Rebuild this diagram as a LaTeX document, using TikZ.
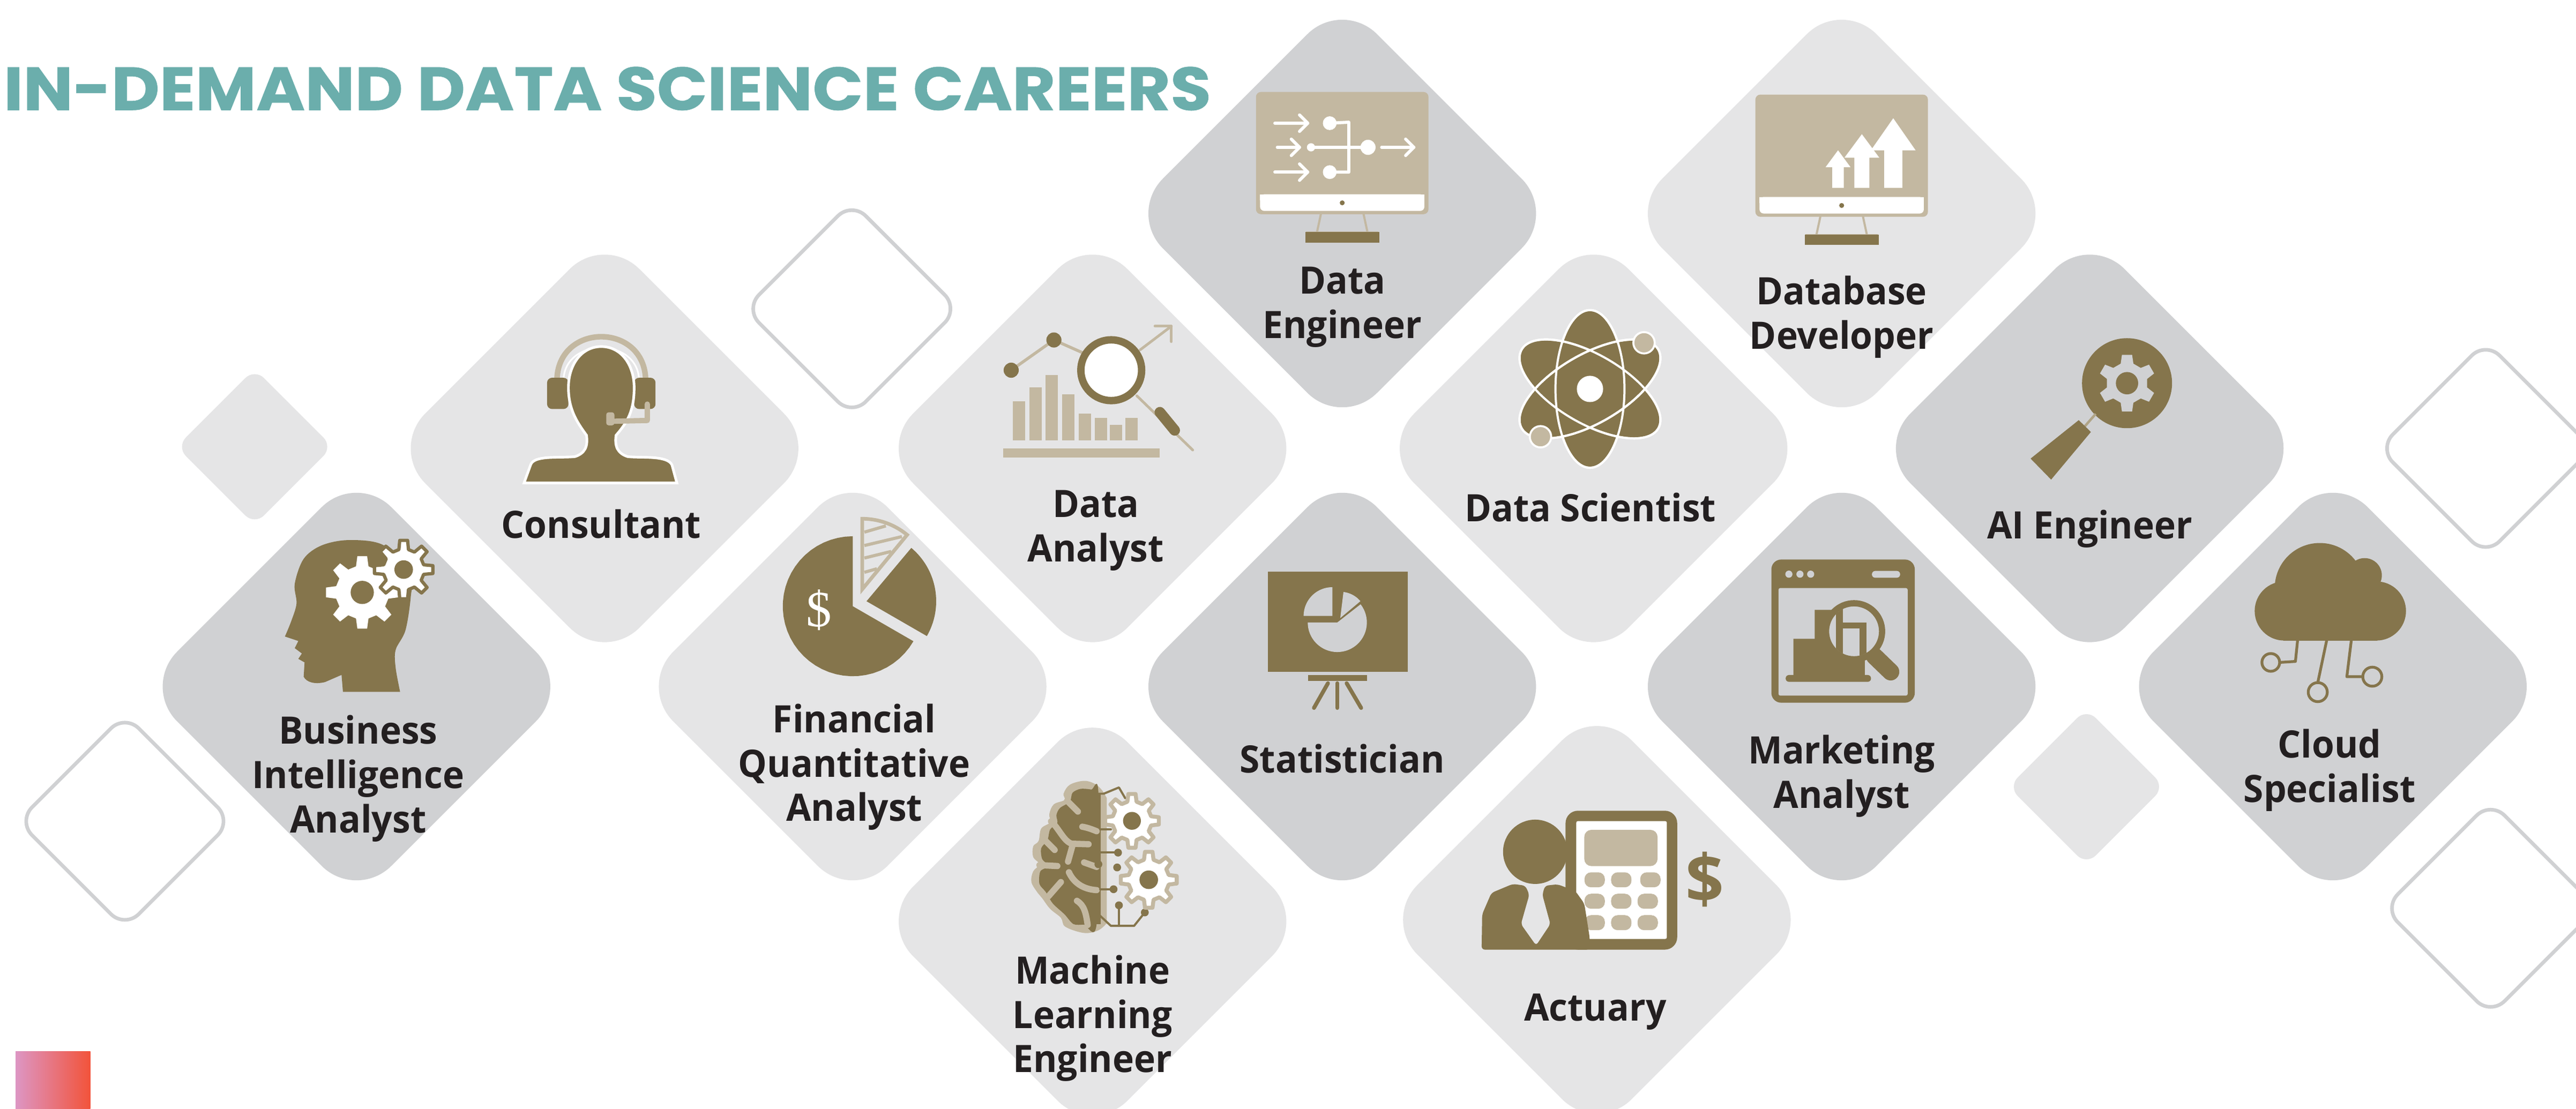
\documentclass[tikz,border=0pt]{standalone}
\usepackage{fontspec}
\setmainfont{Open Sans}
\newfontfamily\titf[FakeStretch=1.09,BoldFeatures={FakeStretch=1.09,FakeBold=0.6}]{Poppins}
\newfontfamily\labf[FakeStretch=.96,BoldFeatures={FakeStretch=.96}]{Open Sans}
\newfontfamily\serf{Liberation Serif}
\definecolor{brn}{HTML}{85754C}
\definecolor{tann}{HTML}{C3B8A1}
\definecolor{dkg}{HTML}{D0D1D3}
\definecolor{ltg}{HTML}{E5E5E6}
\definecolor{ink}{HTML}{231F20}
\definecolor{teal}{HTML}{6BAEAC}
\definecolor{gradl}{HTML}{DD96C4}
\definecolor{gradr}{HTML}{F2533A}
\tikzset{
  x=1pt,y=-1pt,
  lab/.style={font=\labf\fontsize{23}{27}\selectfont\bfseries,text=ink,align=center,inner sep=0pt},
  dkd/.style={fill=dkg},
  ltd/.style={fill=ltg},
  outl/.style={draw=dkg,line width=2.2pt},
  zoomat/.style 2 args={shift={(#1,#2)},x=.1087pt,y=-.1087pt},
  bf/.style={fill=brn},
  tf/.style={fill=tann},
  bl/.style={draw=brn,line cap=round,line join=round},
  tl/.style={draw=tann,line cap=round,line join=round},
}
\newcommand{\dia}[5][ltd]{\path[#1,rounded corners=#5pt] ({#2-#4},#3) -- (#2,{#3-#4}) -- ({#2+#4},#3) -- (#2,{#3+#4}) -- cycle;}
\newcommand{\pie}[6][bf]{\path[#1] (#2,#3) -- plot[domain=#5:#6,samples=40,variable=\t] ({#2+#4*cos(\t)},{#3+#4*sin(\t)}) -- cycle;}
% gear: style, cx, cy, Ro, Ri, n, rotation
\newcommand{\gear}[7][]{\pgfmathsetmacro{\pit}{360/#6}%
  \path[#1,line join=round] ({#2+#5*cos(#7-.30*\pit)},{#3+#5*sin(#7-.30*\pit)})
  \foreach \i [evaluate=\i as \aa using {#7+\i*\pit}] in {1,...,#6} {
    -- ({#2+#5*cos(\aa-\pit-.30*\pit)},{#3+#5*sin(\aa-\pit-.30*\pit)})
    -- ({#2+#4*cos(\aa-\pit-.17*\pit)},{#3+#4*sin(\aa-\pit-.17*\pit)})
    -- ({#2+#4*cos(\aa-\pit+.17*\pit)},{#3+#4*sin(\aa-\pit+.17*\pit)})
    -- ({#2+#5*cos(\aa-\pit+.30*\pit)},{#3+#5*sin(\aa-\pit+.30*\pit)})
  } -- cycle;}
\newcommand{\monitor}{%
  \path[tf,rounded corners=3pt] (-52.5,0) rectangle (52.5,74.4);
  \path[fill=white,rounded corners=2.5pt] (-50,62.3) rectangle (50,72.4);
  \path[fill=white] (-50,62.3) rectangle (50,66);
  \fill[brn] (0,67.5) circle (1.5);
  \draw[tl,line width=1.3pt] (-13,74.4) -- (-15.5,86) -- (15.5,86) -- (13,74.4);
  \fill[tann] (-22,85) rectangle (22,87);
  \fill[brn] (-22.5,85.4) rectangle (22.5,91.6);
}
\begin{document}
\begin{tikzpicture}
\useasboundingbox (0,0) rectangle (1568,674.9);
\fill[white] (0,0) rectangle (1568,674.9);

% diamonds
\dia[dkd]{217}{418}{130.4}{30}
\dia{368}{273}{130.4}{30}
\dia{519}{418}{130.4}{30}
\dia{665}{273}{130.4}{30}
\dia[dkd]{817}{130}{130.4}{30}
\dia[dkd]{817}{418}{130.4}{30}
\dia{665}{561}{130.4}{30}
\dia{970}{273}{130.4}{30}
\dia{1121}{130}{130.4}{30}
\dia[dkd]{1272}{273}{130.4}{30}
\dia[dkd]{1121}{418}{130.4}{30}
\dia{972}{560}{130.4}{30}
\dia[dkd]{1420}{418}{130.4}{30}
\dia{155}{272}{47.5}{8}
\dia{1270}{479}{47.5}{8}
\dia[outl]{518.5}{188}{65}{12}
\dia[outl]{76}{500}{65}{12}
\dia[outl]{1513}{273}{65}{12}
\dia[outl]{1516}{553}{65}{12}

% title
\node[anchor=base west,inner sep=0pt,text=teal,font=\titf\bfseries\fontsize{37}{37}\selectfont] (title) at (2,67) {IN-DEMAND DATA SCIENCE CAREERS};

% gradient square
\shade[left color=gradl,right color=gradr] (9.5,640) rectangle (55,674.9);

% ---------- Business Intelligence
\begin{scope}[zoomat={163.1}{319.6}]
\fill[brn] plot[smooth,tension=.55] coordinates {(740,935)(715,800)(715,700)(770,590)(800,400)(800,250)(640,110)(450,85)(300,115)(200,190)(150,330)(160,440)(130,540)(95,625)}
  -- (170,650) -- (150,690) -- (190,720) -- (170,750) -- (205,770) -- (200,850)
  .. controls (215,880) and (260,895) .. (320,880) -- (412,840) -- (420,935) -- cycle;
\gear[fill=white]{528}{378}{205}{150}{8}{0}
\fill[brn] (528,378) circle (65);
\gear[fill=white,draw=brn,line width=2pt]{760}{250}{165}{115}{8}{0}
\fill[brn] (760,250) circle (52);
\end{scope}

% ---------- Consultant
\draw[tl,line width=3.4pt] (339,232) .. controls (339,196) and (393,196) .. (393,232);
\draw[draw=white,line width=1pt] (343,232) .. controls (343,205) and (389,205) .. (389,232);
\fill[brn,rounded corners=3pt] (333,230) rectangle (346,249);
\fill[brn,rounded corners=3pt] (386,230) rectangle (399,249);
\path[fill=brn,draw=white,line width=1.6pt] (366,211)
  .. controls (354,211) and (346,222) .. (346,236)
  .. controls (346,250) and (352,258) .. (357,265)
  .. controls (358,272) and (356,276) .. (350,278)
  .. controls (340,279) and (325,277) .. (323,283)
  -- (319,294) -- (412,294) -- (409,283)
  .. controls (406,277) and (390,279) .. (382,278)
  .. controls (376,276) and (374,272) .. (375,265)
  .. controls (382,257) and (386,250) .. (386,236)
  .. controls (386,222) and (378,211) .. (366,211) -- cycle;
\draw[tl,line width=3.2pt] (394,246) -- (394,256) -- (372,256.5);
\fill[tann,rounded corners=1.5pt] (369,251) rectangle (374,259);

% ---------- Financial
\begin{scope}[zoomat={463.1}{306.6}]
\pie{515}{575}{392}{30}{270}
\pie{592}{547}{390}{-50}{30}
\pie[draw=tann,line width=2.2pt,line join=miter]{568}{480}{395}{-90}{-50.5}
\foreach \a/\b/\c/\d in {580/160/700/125,580/235/790/185,580/305/730/268,580/385/650/365}
  \draw[draw=tann,line width=1.9pt] (\a,\b) -- (\c,\d);
\node[font=\serf\fontsize{31}{31}\selectfont,text=white,inner sep=0pt] (fin-dollar) at (325,597) {\$};
\end{scope}

% ---------- Data analyst
\foreach \x/\t in {616.5/244.4,626.6/235.7,636.5/228.3,646.5/240.2,656.5/251.7,666.5/254.4,675.4/258.6,685/254.4}
  \fill[tann] (\x,\t) rectangle ({\x+7.5},268);
\fill[tann] (610.5,273) rectangle (706,278.7);
\draw[tl,line width=1.8pt] (615.5,225.4) -- (641.5,207) -- (664,217);
\fill[brn] (615.5,225.4) circle (4.6);
\fill[brn] (641.5,207) circle (4.6);
\draw[tl,line width=1.6pt] (694,213) -- (713,198.6);
\draw[tl,line width=1.6pt] (703,198.6) -- (713,198.6) -- (713,208);
\draw[tl,line width=1.6pt] (692,241) -- (726,274);
\draw[draw=brn,line width=6.5pt,line cap=round] (706,251) -- (715,262);
\path[fill=white,draw=brn,line width=4.5pt] (676.4,225.4) circle (18.5);

% ---------- Data Engineer
\begin{scope}[shift={(817,56)}]
\monitor
\begin{scope}[draw=white,line width=1.9pt,line cap=round,line join=round]
\foreach \y/\s/\e in {19/-41/-21,33.7/-39.5/-26,48.8/-41/-21}{
  \draw (\s,\y) -- (\e,\y);
  \draw ({\e-5},{\y-5}) -- (\e,\y) -- ({\e-5},{\y+5});
}
\draw (-7.6,19) -- (4,18.4) -- (4,48.8) -- (-7.6,48.8);
\draw (-19,33.7) -- (15.7,33.7);
\draw (24,33.7) -- (43.6,33.7);
\draw (38.6,28.7) -- (43.6,33.7) -- (38.6,38.7);
\end{scope}
\fill[white] (-7.6,19) circle (4.2);
\fill[white] (-7.6,48.8) circle (4.2);
\fill[white] (-19,33.7) circle (2.5);
\fill[white] (15.7,33.7) circle (4.6);
\end{scope}

% ---------- Database developer
\begin{scope}[shift={(1121,57.6)}]
\monitor
\foreach \cx/\tip/\hb/\hw/\sw in {-2.2/33.9/44.2/7.6/3.5,12.3/24.1/38.4/10.6/4.6,31.4/14.4/33.9/13.6/5.5}
  \fill[white] (\cx,\tip) -- ({\cx+\hw},\hb) -- ({\cx+\sw},\hb) -- ({\cx+\sw},56.8) -- ({\cx-\sw},56.8) -- ({\cx-\sw},\hb) -- ({\cx-\hw},\hb) -- cycle;
\end{scope}

% ---------- Data Scientist
\foreach \a in {0,60,120}
  \path[fill=brn,draw=white,line width=1.3pt,rotate around={\a:(967.8,236.8)}] (967.8,236.8) ellipse (21 and 48);
\foreach \a in {0,60,120}
  \path[draw=white,line width=1.3pt,rotate around={\a:(967.8,236.8)}] (967.8,236.8) ellipse (21 and 48);
\fill[white] (967.8,236.8) circle (8);
\path[fill=tann,draw=white,line width=1.2pt] (1000.7,208.7) circle (6.5);
\path[fill=tann,draw=white,line width=1.2pt] (937.7,265.9) circle (6.5);

% ---------- AI Engineer
\fill[brn] (1294.7,233.3) circle (27.4);
\gear[fill=dkg]{1294.7}{233.3}{17.5}{12.5}{6}{-90}
\fill[brn] (1294.7,233.3) circle (6.8);
\draw[draw=tann!70!brn,line width=1.5pt] (1268.8,259.8) -- (1275.6,252);
\fill[brn] (1265.3,255.8) -- (1272.7,263) -- (1248.5,292) -- (1236,279.2) -- cycle;

% ---------- Cloud
\begin{scope}[fill=brn]
\fill (1390.4,372) circle (18);
\fill (1446.5,372) circle (18);
\fill (1412,358) circle (27.4);
\fill (1439.3,350.3) circle (10.5);
\fill (1390,362) rectangle (1447,390);
\fill (1425,345) rectangle (1441,365);
\end{scope}
\begin{scope}[bl,line width=1.7pt]
\draw (1398.5,390) -- (1397.2,402.7) -- (1387.7,403.3);
\draw (1382.2,403.3) circle (5.4);
\draw (1416.2,390) -- (1410.8,415.6);
\draw (1410.8,421.4) circle (5.8);
\draw (1431.2,390) -- (1428.5,412) -- (1438,412);
\draw (1444,412) circle (5.8);
\end{scope}

% ---------- Marketing
\begin{scope}[zoomat={1056.8}{326.2}]
\path[fill=brn,rounded corners=6pt] (197,133) rectangle (1000,935);
\path[fill=dkg,rounded corners=1pt] (237,293) rectangle (960,895);
\foreach \xx in {295,357,417} \fill[dkg] (\xx,215) circle (20);
\path[fill=dkg,rounded corners=2pt] (760,197) rectangle (918,235);
\fill[brn] (320,577) -- (440,577) -- (440,415) -- (600,415) -- (720,500) -- (720,780) -- (320,780) -- cycle;
\path[fill=brn,rounded corners=2pt] (277,780) rectangle (755,818);
\draw[draw=brn,line width=10.5pt,line cap=round] (775,675) -- (865,762);
\path[fill=dkg,draw=brn,line width=3.8pt] (660,535) circle (157);
\begin{scope}
\clip (660,535) circle (140);
\fill[brn] (560,380) rectangle (597,700);
\fill[brn] (560,485) rectangle (730,520);
\fill[brn] (690,485) rectangle (730,700);
\end{scope}
\end{scope}

% ---------- Statistician
\fill[brn] (771.6,348) rectangle (857,409);
\pie[fill=dkg]{814}{379}{18}{-38}{180}
\pie[fill=dkg]{811}{375}{17.5}{180}{270}
\pie[fill=dkg]{815.8}{376.3}{16}{-83}{-40}
\fill[brn] (796.3,411) rectangle (832,414.5);
\begin{scope}[bl,line width=2.4pt]
\draw (808.3,416) -- (799.8,431);
\draw (814,416) -- (814,431);
\draw (819.7,416) -- (828.5,431);
\end{scope}

% ---------- Machine Learning
\begin{scope}[zoomat={616.4}{482.7}]
\fill[tann] plot[smooth,tension=.6] coordinates {(527,30)(500,-15)(460,-50)(400,-67)(320,-45)(285,5)(290,40)(230,65)(205,120)(210,165)(160,200)(145,270)(115,300)(115,360)(150,400)(115,440)(105,500)(140,560)(165,590)(210,650)(270,700)(295,750)(400,785)(480,770)(527,730)} -- cycle;
\fill[brn] plot[smooth cycle,tension=.5] coordinates {(480,0)(440,-18)(380,-22)(335,0)(320,50)(265,85)(245,125)(250,170)(210,205)(195,265)(160,310)(165,370)(200,410)(155,440)(150,510)(185,555)(225,620)(290,680)(340,735)(400,738)(470,735)};
\fill[brn] (440,5) rectangle (492,735);
\begin{scope}[tl,line width=3.8pt]
\draw (305,45) -- (365,105);
\draw (215,160) .. controls (260,200) and (285,270) .. (330,285) -- (425,288);
\draw (335,295) -- (310,385);
\draw (180,265) -- (235,320);
\draw (150,405) -- (250,410);
\draw (390,190) .. controls (420,195) and (445,205) .. (470,215);
\draw (400,390) -- (470,415);
\draw (315,445) .. controls (340,500) and (390,540) .. (470,545);
\draw (270,500) -- (200,580);
\draw (360,605) .. controls (400,630) and (410,670) .. (420,740);
\end{scope}
\fill[tann] (495,30) rectangle (527,700);
\begin{scope}[bl,line width=1.3pt]
\draw (490,205) -- (550,205);
\draw (490,335) -- (590,335);
\draw (490,540) -- (565,540);
\draw (595,630) -- (595,745);
\draw (480,680) -- (550,745) -- (680,745) -- (740,670);
\draw (470,5) -- (510,5) -- (595,-30) -- (630,30);
\end{scope}
\foreach \xx/\yy in {590/335,480/400,585/418,565/540,595/630,740/670} \fill[brn] (\xx,\yy) circle (22);
\gear[fill=white,draw=tann,line width=2.4pt]{668}{157}{152}{110}{8}{0}
\fill[brn] (668,157) circle (50);
\gear[fill=white,draw=tann,line width=2.4pt]{762}{487}{158}{115}{8}{0}
\fill[brn] (762,487) circle (52);
\end{scope}

% ---------- Actuary
\begin{scope}[zoomat={893.7}{486}]
\path[fill=brn,rounded corners=7.5pt] (545,70) rectangle (1170,848);
\path[fill=white,rounded corners=1pt] (605,128) rectangle (1112,788);
\path[fill=tann,rounded corners=4.3pt] (650,177) rectangle (1060,380);
\foreach \xx/\yy in {708/457,857/457,1020/457,708/577,857/577,1005/577,708/697,857/697,1005/697}
  \path[fill=tann,rounded corners=4pt] ({\xx-57},{\yy-42}) rectangle ({\xx+57},{\yy+42});
\fill[brn] (375,300) circle (180);
\path[fill=brn,rounded corners=2pt] (75,848) -- (78,650) -- (130,530) -- (250,480) -- (320,490) -- (342,540) -- (295,705) -- (380,825) -- (460,705) -- (415,540) -- (430,490) -- (500,482) -- (600,520) -- (650,590) -- (680,780) -- (680,848) -- cycle;
\node[font=\bfseries\fontsize{41}{41}\selectfont,text=brn,inner sep=0pt] (act-dollar) at (1325,455) {\$};
\end{scope}

% labels
\node[lab] (bi) at (218,474) {Business\\Intelligence\\Analyst};
\node[lab] (cons) at (366,319) {Consultant};
\node[lab] (fq) at (520,467) {Financial\\Quantitative\\Analyst};
\node[lab] (da) at (667,323) {Data\\Analyst};
\node[lab] (de) at (817,187) {Data\\Engineer};
\node[lab] (st) at (817,462) {Statistician};
\node[lab] (ml) at (665,620) {Machine\\Learning\\Engineer};
\node[lab] (ds) at (968,309) {Data Scientist};
\node[lab] (dbd) at (1121,193) {Database\\Developer};
\node[lab] (ai) at (1272,322) {AI Engineer};
\node[lab] (ma) at (1121,472.5) {Marketing\\Analyst};
\node[lab] (ac) at (971,616) {Actuary};
\node[lab] (cl) at (1418,469) {Cloud\\Specialist};
\end{tikzpicture}
\end{document}
